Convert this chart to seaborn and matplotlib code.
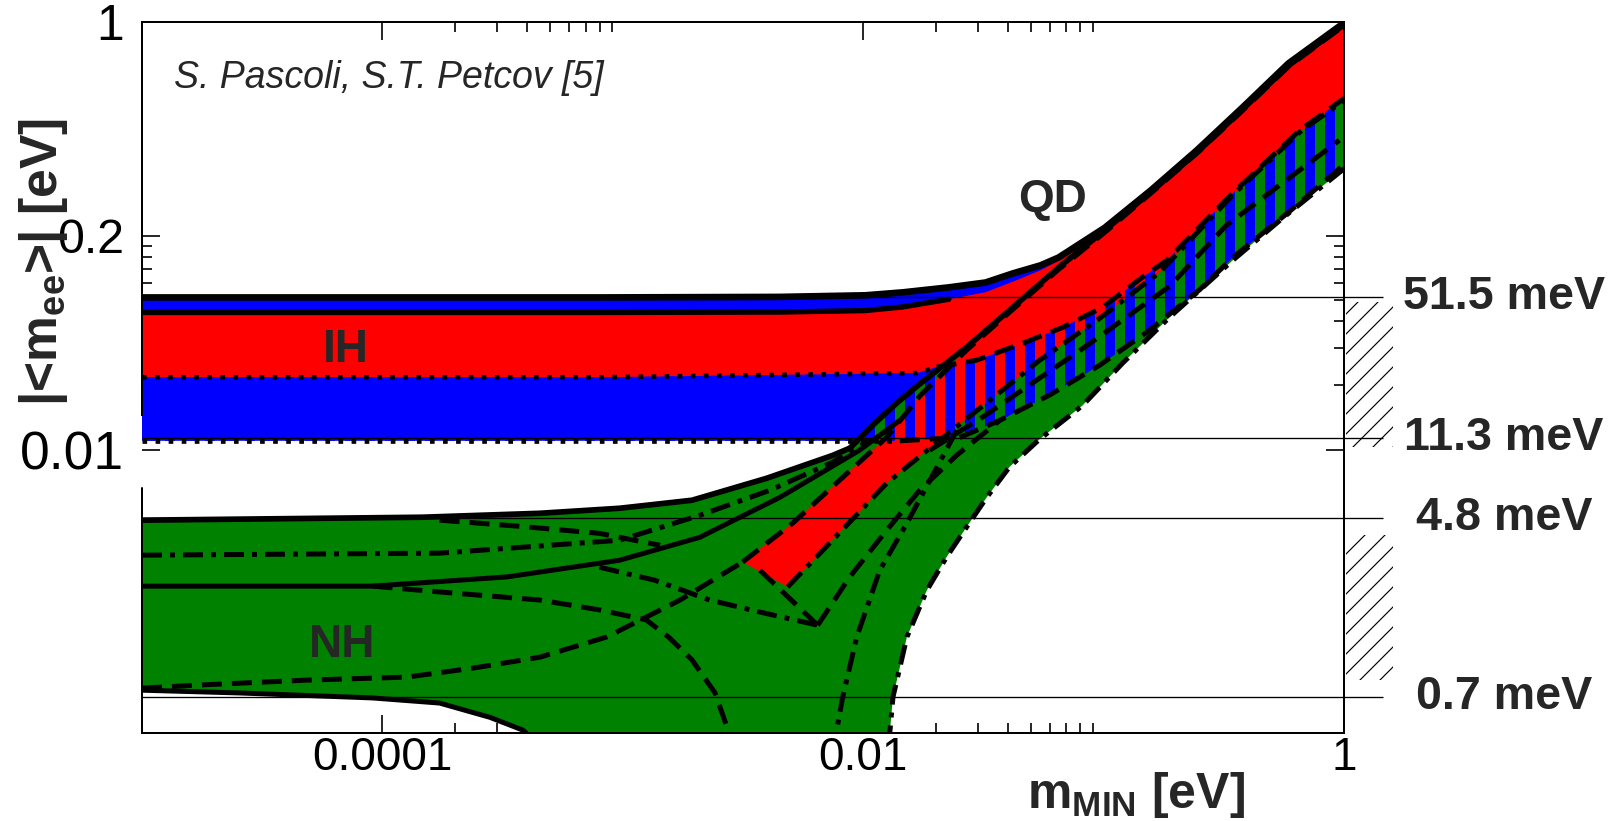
import numpy as np
import matplotlib
matplotlib.use("Agg")
import matplotlib.pyplot as plt
import seaborn as sns
from matplotlib.patches import Rectangle
from matplotlib.ticker import FixedLocator, FixedFormatter, LogLocator, NullFormatter

# ---- data (eV) ----
# inverted hierarchy: outer envelope, red (CP-conserving) band, lower bound
ih_up_x = [1e-5, 8.0e-4, 4.5e-3, 0.0102, 0.0146, 0.0227, 0.0323, 0.0419, 0.0547, 0.065, 0.101,
           0.157, 0.244, 0.378, 0.587, 1.0]
ih_up_y = [0.0515, 0.0515, 0.0518, 0.0527, 0.0544, 0.0574, 0.0605, 0.0667, 0.0728, 0.0792, 0.109,
           0.163, 0.251, 0.398, 0.640, 0.99]
ih_redtop_y = [0.0438, 0.0438, 0.0440, 0.0447, 0.0465, 0.0505, 0.0545, 0.0610, 0.0690, 0.0765, 0.107,
               0.161, 0.248, 0.394, 0.632, 0.98]
ih_redbot_x = [1e-5, 8.0e-4, 0.0167, 0.0202, 0.0296, 0.046, 0.0676, 0.099, 0.145, 0.183, 0.344, 0.653, 1.0]
ih_redbot_y = [0.0218, 0.0218, 0.0228, 0.0243, 0.0262, 0.0314, 0.0373, 0.0463, 0.0640, 0.0767, 0.158, 0.311, 0.439]
ih_low_x = [1e-5, 0.0142, 0.0252, 0.037, 0.0596, 0.0962, 0.155, 0.251, 0.344, 0.593, 1.0]
ih_low_y = [0.0110, 0.0110, 0.0114, 0.0137, 0.0180, 0.0248, 0.0361, 0.0560, 0.079, 0.130, 0.215]

# normal hierarchy: upper bound and the two branches of the lower bound
nh_up_x = [1e-5, 1.46e-4, 4.52e-4, 9.7e-4, 1.94e-3, 3.97e-3, 7.46e-3, 8.79e-3, 0.01117, 0.0139, 0.0173,
           0.0269, 0.0419, 0.065, 0.101, 0.157, 0.244, 0.378, 0.587, 1.0]
nh_up_y = [4.68e-3, 4.83e-3, 5.04e-3, 5.32e-3, 5.8e-3, 7.35e-3, 9.4e-3, 0.01016, 0.01328, 0.01665, 0.0204,
           0.0301, 0.0463, 0.0711, 0.106, 0.160, 0.245, 0.390, 0.625, 0.972]
nh_lowL_x = [1e-5, 2.55e-5, 9.1e-5, 1.73e-4, 2.8e-4, 3.84e-4, 4.5e-4]
nh_lowL_y = [7.5e-4, 7.28e-4, 6.9e-4, 6.53e-4, 5.6e-4, 4.88e-4, 4.15e-4]
nh_lowR_x = [0.0126, 0.0129, 0.0133, 0.0152, 0.0184, 0.0222, 0.0269, 0.0327, 0.0406, 0.0542,
             0.0818, 0.120, 0.188, 0.344, 0.555, 1.0]
nh_lowR_y = [4.15e-4, 4.73e-4, 6.97e-4, 1.33e-3, 2.2e-3, 3.14e-3, 4.34e-3, 6.0e-3, 8.3e-3, 0.0112,
             0.0161, 0.0254, 0.0416, 0.0767, 0.121, 0.206]
nh_redup_x = [3.15e-3, 5.09e-3, 7.98e-3, 0.01253, 0.0173, 0.0269, 0.0419, 0.065, 0.101, 0.157,
              0.244, 0.378, 0.587, 1.0]
nh_redup_y = [2.98e-3, 4.53e-3, 7.2e-3, 0.01143, 0.01795, 0.0292, 0.0453, 0.0697, 0.1037, 0.158,
              0.243, 0.385, 0.619, 0.962]
nh_redlow_x = [4.85e-3, 7.46e-3, 0.01253, 0.0208, 0.0336, 0.0542, 0.0962, 0.171, 0.344, 0.653, 1.0]
nh_redlow_y = [2.28e-3, 3.78e-3, 6.97e-3, 0.01107, 0.0170, 0.0262, 0.0411, 0.0675, 0.155, 0.305, 0.430]

# inner contour lines
l1_x = [1e-5, 1.73e-4, 9.7e-4, 2.09e-3, 4.08e-3, 7.46e-3, 0.01064]
l1_y = [3.21e-3, 3.28e-3, 3.77e-3, 4.93e-3, 6.45e-3, 8.73e-3, 0.01107]
l2_x = [1e-5, 9.1e-5, 3.30e-4, 9.7e-4, 2.09e-3, 4.50e-3, 9.66e-3, 0.0142]
l2_y = [2.30e-3, 2.30e-3, 2.54e-3, 3.04e-3, 3.89e-3, 5.98e-3, 9.94e-3, 0.0137]
l3_x = [9.1e-5, 1.73e-4, 4.52e-4, 8.0e-4, 1.25e-3, 1.55e-3, 1.94e-3, 2.42e-3, 2.85e-3]
l3_y = [2.30e-3, 2.16e-3, 1.98e-3, 1.78e-3, 1.60e-3, 1.33e-3, 1.04e-3, 7.28e-4, 4.3e-4]
l4_x = [1e-5, 1.74e-5, 4.85e-5, 1.26e-4, 2.38e-4, 4.52e-4, 8.57e-4, 1.73e-3, 3.15e-3]
l4_y = [7.67e-4, 7.93e-4, 8.36e-4, 8.63e-4, 9.51e-4, 1.07e-3, 1.33e-3, 1.98e-3, 2.98e-3]
l5_x = [0.0245, 0.0152, 0.01172, 9.4e-3, 8.22e-3, 7.6e-3]
l5_y = [0.01233, 4.53e-3, 2.73e-3, 1.33e-3, 6.97e-4, 4.3e-4]
l6_x = [0.0189, 0.0314, 0.0794, 0.188, 0.324, 0.957]
l6_y = [9.94e-3, 0.0142, 0.029, 0.058, 0.112, 0.28]
l8_x = [8.0e-4, 1.36e-3, 2.30e-3, 3.72e-3, 6.47e-3]
l8_y = [2.82e-3, 2.45e-3, 1.98e-3, 1.74e-3, 1.51e-3]
l9_x = [3.72e-3, 6.47e-3]
l9_y = [2.73e-3, 1.51e-3]
l10_x = [6.47e-3, 8.79e-3, 0.01253, 0.01718, 0.0245, 0.037]
l10_y = [1.51e-3, 2.54e-3, 4.2e-3, 6.46e-3, 9.42e-3, 0.0137]
l11_x = [1.73e-4, 3.73e-4, 8.0e-4, 1.43e-3]
l11_y = [4.68e-3, 4.38e-3, 4.06e-3, 3.57e-3]

# sensitivity levels on the right
ref_levels = [0.0515, 0.0113, 0.0048, 0.0007]
ref_labels = ["51.5 meV", "11.3 meV", "4.8 meV", "0.7 meV"]
box_low = [0.0103, 8.4e-4]
box_high = [0.049, 4.0e-3]

x_ticks = [1e-4, 1e-2, 1.0]
x_ticklabels = ["0.0001", "0.01", "1"]
y_ticks = [0.01, 0.1, 1.0]
y_ticklabels = ["0.01", "0.2", "1"]

RED, BLUE, GREEN = "#ff0000", "#0000ff", "#008200"

sns.set_style("ticks")
plt.rcParams["font.family"] = ["Liberation Sans", "DejaVu Sans"]
plt.rcParams["mathtext.fontset"] = "custom"
plt.rcParams["mathtext.rm"] = "Liberation Sans"
plt.rcParams["mathtext.bf"] = "Liberation Sans:bold"
plt.rcParams["mathtext.it"] = "Liberation Sans:italic"

DPI = 120
fig = plt.figure(figsize=(1612 / DPI, 821 / DPI), dpi=DPI)
ax = fig.add_axes([142 / 1612, 88 / 821, 1202 / 1612, 711 / 821])
ax.set_xscale("log")
ax.set_yscale("log")


def band(xa, ya, xb, yb):
    return np.r_[xa, xb[::-1]], np.r_[ya, yb[::-1]]


# filled regions
ax.fill(*band(ih_up_x, ih_up_y, ih_low_x, ih_low_y), color=BLUE, lw=0, zorder=1)
ax.fill(*band(ih_up_x, ih_redtop_y, ih_redbot_x, ih_redbot_y), color=RED, lw=0, zorder=2)
nh_x = np.r_[nh_up_x, nh_lowR_x[::-1], nh_lowL_x[::-1]]
nh_y = np.r_[nh_up_y, nh_lowR_y[::-1], nh_lowL_y[::-1]]
ax.fill(nh_x, nh_y, color=GREEN, lw=0, zorder=3)
ax.fill(*band(nh_redup_x, nh_redup_y, nh_redlow_x, nh_redlow_y), color=RED, lw=0, zorder=4)
with plt.rc_context({"hatch.linewidth": 6.0}):
    ax.fill(*band(ih_redbot_x, ih_redbot_y, ih_low_x, ih_low_y), facecolor="none",
            edgecolor=BLUE, lw=0, hatch="|", zorder=5)

DASH = (0, (4, 2))
DASHDOT = (0, (4, 1.6, 1, 1.6))
DOT = (0, (1, 1.8))


def line(x, y, ls="-", lw=3.0):
    sns.lineplot(x=np.asarray(x), y=np.asarray(y), ax=ax, color="black", linewidth=lw,
                 linestyle=ls, estimator=None, sort=False, legend=False, zorder=6)


line(ih_up_x, ih_up_y, "-", 4.0)
line(ih_up_x[:6], ih_redtop_y[:6], "-", 3.2)
rb_x, rb_y = np.array(ih_redbot_x), np.array(ih_redbot_y)
line(rb_x[rb_x <= 0.0202], rb_y[rb_x <= 0.0202], DOT, 2.8)
line(rb_x[rb_x >= 0.0202], rb_y[rb_x >= 0.0202], DASH, 3.0)
lo_x, lo_y = np.array(ih_low_x), np.array(ih_low_y)
line(lo_x[lo_x <= 0.0142], lo_y[lo_x <= 0.0142], DOT, 2.8)
line(lo_x[lo_x >= 0.0142], lo_y[lo_x >= 0.0142], DASH, 3.0)
line(nh_up_x, nh_up_y, "-", 3.4)
line(nh_lowL_x, nh_lowL_y, "-", 3.0)
line(nh_lowR_x, nh_lowR_y, DASHDOT, 3.0)
line(nh_redup_x, nh_redup_y, DASH)
line(nh_redlow_x, nh_redlow_y, DASHDOT)
line(l1_x, l1_y, DASHDOT)
line(l2_x, l2_y, "-")
line(l3_x, l3_y, DASH)
line(l4_x, l4_y, DASH)
line(l5_x, l5_y, DASHDOT)
line(l6_x, l6_y, DASH)
line(l8_x, l8_y, DASHDOT)
line(l9_x, l9_y, DASH)
line(l10_x, l10_y, DASH)
line(l11_x, l11_y, DASH)

ax.set_xlim(1e-5, 1.0)
ax.set_ylim(4.73e-4, 1.0)

# reference levels, their labels and the hatched boxes
ax.hlines(ref_levels, 1e-5, 1.45, colors="black", lw=0.8, clip_on=False, zorder=8)
ytr = ax.get_yaxis_transform()
for lev, lab in zip(ref_levels, ref_labels):
    ax.text(1.133, lev, lab, transform=ytr, ha="center", va="center", fontsize=28,
            fontweight="bold", clip_on=False)
with plt.rc_context({"hatch.linewidth": 0.7}):
    for lo, hi in zip(box_low, box_high):
        ax.add_patch(Rectangle((1.002, lo), 0.039, hi - lo, transform=ytr, facecolor="none",
                               edgecolor="black", lw=0, hatch="//", clip_on=False))

# region labels
ax.text(7.05e-5, 0.0294, "IH", fontsize=27.5, fontweight="bold", ha="center", va="center", zorder=9)
ax.text(6.8e-5, 1.22e-3, "NH", fontsize=27.5, fontweight="bold", ha="center", va="center", zorder=9)
ax.text(0.0614, 0.1466, "QD", fontsize=27.5, fontweight="bold", ha="center", va="center", zorder=9)
ax.text(0.0266, 0.907, "S. Pascoli, S.T. Petcov [5]", transform=ax.transAxes, fontsize=22.5,
        style="italic", va="baseline", zorder=9)

# axes styling
ax.xaxis.set_major_locator(FixedLocator(x_ticks))
ax.xaxis.set_major_formatter(FixedFormatter(x_ticklabels))
ax.xaxis.set_minor_locator(LogLocator(base=100, subs=np.arange(2, 10)))
ax.xaxis.set_minor_formatter(NullFormatter())
ax.yaxis.set_major_locator(FixedLocator(y_ticks))
ax.yaxis.set_major_formatter(FixedFormatter(y_ticklabels))
ax.yaxis.set_minor_locator(FixedLocator(np.arange(2, 10) * 0.01))
ax.yaxis.set_minor_formatter(NullFormatter())
ax.tick_params(which="both", direction="in", top=True, right=True, width=1.0, colors="black")
ax.tick_params(which="major", length=11)
ax.tick_params(which="minor", length=6)
ax.tick_params(axis="x", which="major", pad=2, labelsize=27.5)
ax.tick_params(axis="y", which="major", pad=11, labelsize=30)
for lbl, size in zip(ax.get_yticklabels(), [32, 29, 30]):
    lbl.set_fontsize(size)
for s in ax.spines.values():
    s.set_linewidth(1.2)
    s.set_color("black")
    s.set_zorder(10)
ax.spines["left"].set_bounds(0.0145, 1.0)
ax.axvline(1e-5, 0, 0.344, color="black", lw=1.2, clip_on=False, zorder=10)

fig.text(44 / 1612, 1 - 262 / 821, r"|<m$_{\mathbf{ee}}$>| [eV]", rotation=90, fontsize=31,
         fontweight="bold", ha="center", va="center")
fig.text(1136 / 1612, 1 - 795 / 821, r"m$_{\mathbf{MIN}}$ [eV]", fontsize=30,
         fontweight="bold", ha="center", va="center")

fig.savefig("out.png", dpi=DPI)
